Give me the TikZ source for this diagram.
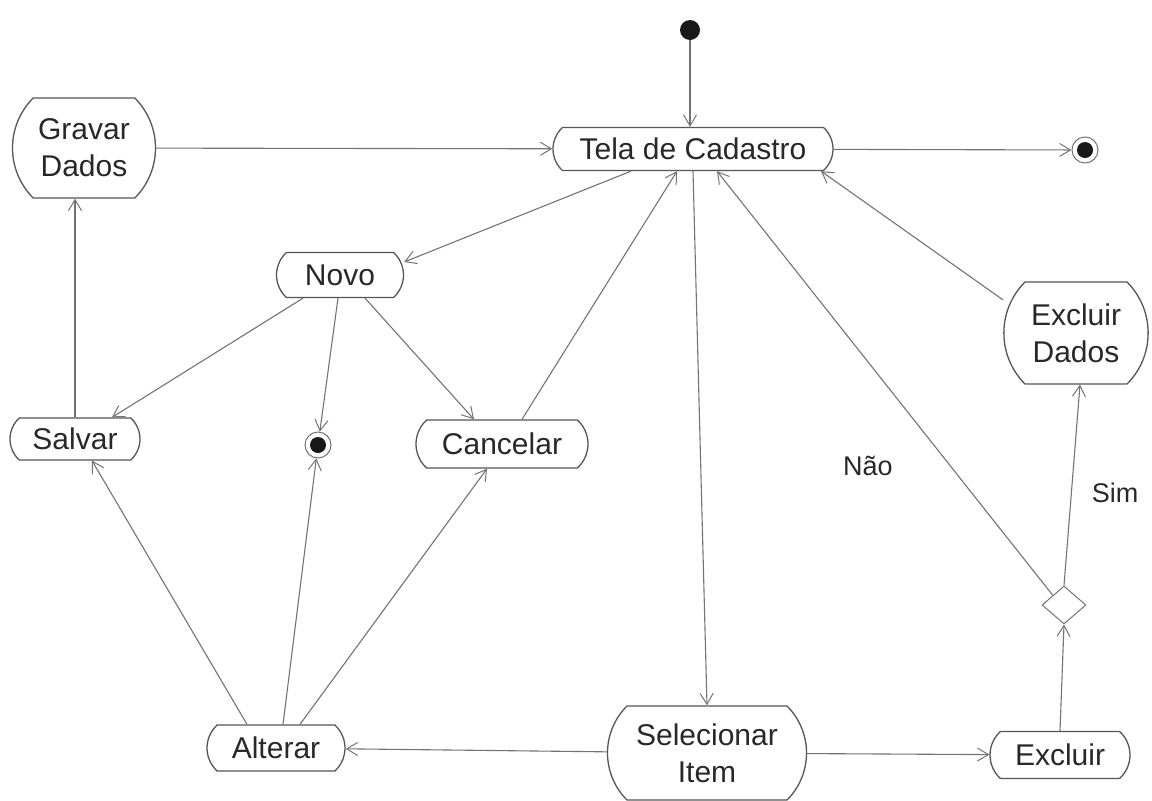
\documentclass[tikz,border=0pt]{standalone}
\usepackage{fontspec}
\setmainfont{Liberation Sans}
\usetikzlibrary{arrows.meta, shapes.misc, shapes.geometric}
\definecolor{BG}{RGB}{85,85,85}
\definecolor{LG}{RGB}{115,115,115}
\definecolor{TX}{RGB}{40,40,40}
\definecolor{DK}{RGB}{25,25,25}

\begin{document}
\begin{tikzpicture}[x=1pt, y=-1pt,
  act/.style={rounded rectangle, rounded rectangle arc length=95, draw=BG,
              line width=1.3pt, inner sep=0pt, align=center, text=TX,
              font=\fontsize{30}{37}\selectfont},
  tall/.style={act, rounded rectangle arc length=90},
  arr/.style={draw=LG, line width=1.1pt,
              -{Straight Barb[length=11pt, width=13pt, line width=1pt]}},
  inicio/.style={circle, fill=DK, minimum size=20pt, inner sep=0pt},
  fim/.style={circle, draw=LG, line width=1pt, minimum size=26pt, inner sep=0pt,
              path picture={\fill[DK] (path picture bounding box.center) circle (8pt);}},
  decisao/.style={diamond, draw=LG, line width=1pt, inner sep=0pt,
                  minimum width=44pt, minimum height=38pt},
  rotulo/.style={text=TX, font=\fontsize{27}{32}\selectfont}
]
\useasboundingbox (0,0) rectangle (1152,801);

% estados
\node[inicio] (init) at (690,30) {};
\node[act, minimum width=280pt, minimum height=43pt] (tela) at (693,149) {Tela de Cadastro};
\node[fim] (fimA) at (1085,150) {};
\node[tall, minimum width=143pt, minimum height=100pt] (gravar) at (84,148) {Gravar\\Dados};
\node[act, minimum width=127pt, minimum height=45pt] (novo) at (340,275) {Novo};
\node[act, minimum width=130pt, minimum height=42pt] (salvar) at (75,439) {Salvar};
\node[fim] (fimB) at (318,445) {};
\node[act, minimum width=172pt, minimum height=48pt] (cancelar) at (502,444) {Cancelar};
\node[tall, minimum width=131pt, minimum height=102pt] (exdados) at (1076,333) {Excluir\\Dados};
\node[decisao] (dec) at (1064,605) {};
\node[act, minimum width=138pt, minimum height=46pt] (alterar) at (276,748) {Alterar};
\node[tall, minimum width=199pt, minimum height=94pt] (sel) at (707,753) {Selecionar\\Item};
\node[act, minimum width=140pt, minimum height=47pt] (excluir) at (1060,755) {Excluir};

% rotulos da decisao
\node[rotulo] (nao) at (868,466) {Não};
\node[rotulo] (sim) at (1115,493) {Sim};

% transicoes
\draw[arr] (init) -- (init |- tela.north);
\draw[arr] (gravar) -- (tela);
\draw[arr] (tela) -- (fimA);
\draw[arr] ([xshift=-62pt]tela.south) -- ([yshift=13pt]novo.east);
\draw[arr] ([xshift=-37pt]novo.south) -- ([xshift=37pt]salvar.north);
\draw[arr] ([xshift=-2pt]novo.south) -- (fimB);
\draw[arr] ([xshift=25pt]novo.south) -- ([xshift=-28pt]cancelar.north);
\draw[arr] ([xshift=20pt]cancelar.north) -- ([xshift=-16pt]tela.south);
\draw[arr] (tela.south) -- (sel.north);
\draw[arr] (dec.north west) -- ([xshift=24pt]tela.south);
\draw[arr] ([yshift=33pt]exdados.west) -- ([xshift=128pt]tela.south);
\draw[arr] (dec.north) -- ([xshift=4pt]exdados.south);
\draw[arr] (excluir.north) -- (dec.south);
\draw[arr] (sel) -- (excluir);
\draw[arr] (sel) -- (alterar);
\draw[arr] ([xshift=-29pt]alterar.north) -- ([xshift=17pt]salvar.south);
\draw[arr] ([xshift=7pt]alterar.north) -- (fimB);
\draw[arr] ([xshift=24pt]alterar.north) -- ([xshift=-15pt]cancelar.south);
\draw[arr] (salvar.north) -- (salvar.north |- gravar.south);
\end{tikzpicture}
\end{document}
